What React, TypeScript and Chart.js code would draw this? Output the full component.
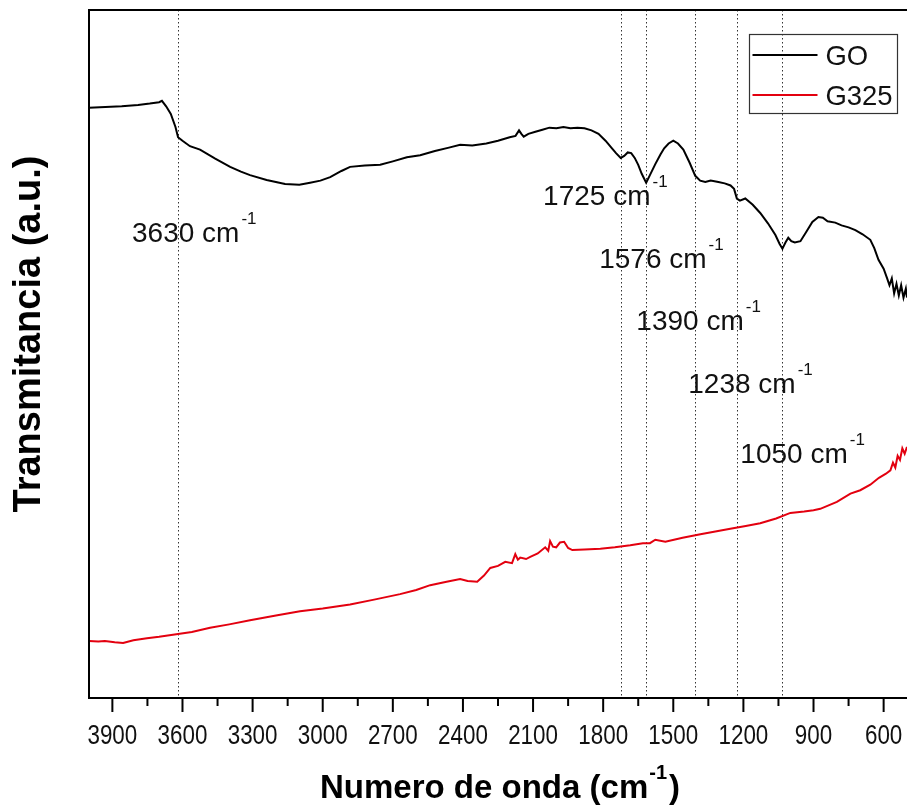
import React, { useEffect, useRef } from "react";
import { Chart, registerables } from "chart.js";

Chart.register(...registerables);

// ---------- data ----------
const GO_WN = [4000, 3930, 3860, 3790, 3740, 3700, 3688, 3670, 3650, 3630, 3619, 3600, 3568, 3525, 3460, 3396, 3350, 3311, 3240, 3161, 3100, 3054, 3010, 2968, 2920, 2883, 2820, 2754, 2700, 2640, 2583, 2520, 2460, 2412, 2360, 2300, 2250, 2200, 2175, 2160, 2150, 2140, 2120, 2090, 2060, 2030, 2000, 1970, 1940, 1910, 1880, 1850, 1820, 1790, 1765, 1745, 1725, 1710, 1695, 1680, 1665, 1650, 1635, 1616, 1600, 1577, 1555, 1539, 1520, 1500, 1480, 1457, 1430, 1406, 1385, 1363, 1340, 1307, 1280, 1255, 1240, 1228, 1215, 1192, 1160, 1128, 1095, 1063, 1045, 1033, 1020, 1008, 995, 980, 956, 930, 905, 879, 860, 840, 807, 780, 750, 721, 690, 657, 640, 622, 600, 585, 575, 565, 555, 545, 535, 525, 515, 505, 500];
const GO_T = [85.8, 85.9, 86.0, 86.2, 86.4, 86.6, 86.8, 86.0, 84.9, 83.0, 81.5, 81.0, 80.2, 79.7, 78.4, 77.2, 76.5, 76.0, 75.3, 74.7, 74.6, 74.9, 75.2, 75.7, 76.6, 77.2, 77.4, 77.5, 78.0, 78.6, 78.9, 79.5, 80.0, 80.4, 80.3, 80.6, 81.0, 81.5, 81.7, 82.5, 82.0, 81.6, 82.0, 82.3, 82.6, 82.9, 82.8, 83.0, 82.8, 82.9, 82.8, 82.5, 82.0, 81.0, 80.0, 79.2, 78.5, 78.8, 79.3, 79.2, 78.5, 77.5, 76.2, 74.9, 76.0, 77.6, 79.0, 79.9, 80.6, 81.0, 80.6, 79.7, 77.8, 75.9, 75.2, 75.0, 75.2, 75.0, 74.8, 74.5, 74.0, 72.6, 72.3, 72.6, 71.7, 70.5, 69.0, 67.3, 66.0, 65.3, 66.2, 66.9, 66.4, 66.2, 66.4, 67.8, 69.2, 69.9, 69.8, 69.3, 69.1, 68.7, 68.4, 68.0, 67.4, 66.6, 65.4, 63.7, 62.4, 61.0, 60.0, 61.0, 58.8, 60.2, 58.5, 60.0, 58.2, 59.5, 58.2];

const G325_WN = [4000, 3960, 3932, 3890, 3854, 3810, 3752, 3700, 3619, 3560, 3482, 3400, 3311, 3200, 3097, 3000, 2883, 2780, 2669, 2600, 2540, 2470, 2412, 2380, 2339, 2310, 2283, 2250, 2219, 2190, 2176, 2165, 2155, 2130, 2112, 2080, 2048, 2035, 2027, 2015, 2001, 1985, 1967, 1950, 1932, 1880, 1812, 1750, 1684, 1630, 1600, 1577, 1534, 1460, 1384, 1320, 1256, 1190, 1128, 1060, 999, 940, 900, 871, 800, 742, 700, 657, 620, 590, 571, 560, 550, 540, 530, 520, 510, 500];
const G325_T = [8.3, 8.2, 8.3, 8.1, 8.0, 8.4, 8.7, 8.9, 9.3, 9.6, 10.2, 10.7, 11.3, 12.0, 12.6, 13.0, 13.6, 14.3, 15.1, 15.7, 16.4, 16.9, 17.3, 17.0, 16.9, 17.8, 18.9, 19.2, 19.8, 19.6, 20.9, 20.1, 20.4, 20.2, 20.5, 21.0, 21.9, 21.4, 22.8, 22.0, 21.9, 22.6, 22.7, 21.8, 21.5, 21.6, 21.7, 21.9, 22.2, 22.5, 22.5, 23.0, 22.7, 23.3, 23.8, 24.2, 24.6, 25.0, 25.4, 26.1, 26.9, 27.1, 27.3, 27.5, 28.5, 29.7, 30.2, 31.0, 32.0, 32.6, 33.1, 34.2, 33.5, 35.2, 34.6, 36.3, 35.5, 36.5];

const SERIES_NAMES = ["GO", "G325"];
const SERIES_COLORS = ["#000000", "#e3000f"];

const X_MIN = 500;
const X_MAX = 4000;
const MAJOR_TICKS = [3900, 3600, 3300, 3000, 2700, 2400, 2100, 1800, 1500, 1200, 900, 600];
const MINOR_TICKS = [3750, 3450, 3150, 2850, 2550, 2250, 1950, 1650, 1350, 1050, 750];

// reference lines and their labels
const BAND_LINES = [3620, 1725, 1617, 1406, 1228, 1033];
const BAND_LABELS = ["3630", "1725", "1576", "1390", "1238", "1050"];
const BAND_LABEL_WN = [3816, 2057, 1817, 1658, 1436, 1213];
const BAND_LABEL_T = [66.3, 71.7, 62.5, 53.5, 44.3, 34.2];

const X_TITLE = "Numero de onda (cm";
const Y_TITLE = "Transmitancia (a.u.)";

const SANS = '"Liberation Sans", Arial, sans-serif';

// draws text squeezed horizontally, returns drawn width
function squeezed(ctx: CanvasRenderingContext2D, text: string, x: number, y: number, font: string, sx: number, align: CanvasTextAlign = "left") {
  ctx.font = font;
  const w = ctx.measureText(text).width * sx;
  let left = x;
  if (align === "center") left = x - w / 2;
  ctx.save();
  ctx.translate(left, y);
  ctx.scale(sx, 1);
  ctx.textAlign = "left";
  ctx.textBaseline = "alphabetic";
  ctx.fillText(text, 0, 0);
  ctx.restore();
  return w;
}

const decorPlugin = {
  id: "decor",
  beforeDatasetsDraw(chart: any) {
    const { ctx, chartArea } = chart;
    const xs = chart.scales.x;
    ctx.save();
    ctx.strokeStyle = "#333";
    ctx.lineWidth = 1;
    ctx.setLineDash([1.5, 2.5]);
    BAND_LINES.forEach((wn) => {
      const px = Math.round(xs.getPixelForValue(wn)) + 0.5;
      ctx.beginPath();
      ctx.moveTo(px, chartArea.top);
      ctx.lineTo(px, chartArea.bottom);
      ctx.stroke();
    });
    ctx.restore();
  },
  afterDraw(chart: any) {
    const { ctx, chartArea } = chart;
    const xs = chart.scales.x;
    const ys = chart.scales.y;
    ctx.save();
    // frame
    ctx.strokeStyle = "#000";
    ctx.lineWidth = 2;
    ctx.beginPath();
    ctx.moveTo(chartArea.right + 2, chartArea.top);
    ctx.lineTo(chartArea.left, chartArea.top);
    ctx.lineTo(chartArea.left, chartArea.bottom);
    ctx.lineTo(chartArea.right + 2, chartArea.bottom);
    ctx.stroke();
    // tick marks
    MAJOR_TICKS.forEach((v) => {
      const px = xs.getPixelForValue(v);
      ctx.beginPath();
      ctx.moveTo(px, chartArea.bottom);
      ctx.lineTo(px, chartArea.bottom + 14);
      ctx.stroke();
    });
    MINOR_TICKS.forEach((v) => {
      const px = xs.getPixelForValue(v);
      ctx.beginPath();
      ctx.moveTo(px, chartArea.bottom);
      ctx.lineTo(px, chartArea.bottom + 8);
      ctx.stroke();
    });
    // tick labels (from the scale's ticks)
    ctx.fillStyle = "#111";
    xs.ticks.forEach((t: any) => {
      const px = xs.getPixelForValue(t.value);
      squeezed(ctx, String(t.value), px, chartArea.bottom + 46, `28px ${SANS}`, 0.8, "center");
    });
    // band labels
    BAND_LABELS.forEach((lab, i) => {
      const px = xs.getPixelForValue(BAND_LABEL_WN[i]);
      const py = ys.getPixelForValue(BAND_LABEL_T[i]);
      const w = squeezed(ctx, lab + " cm", px, py, `28px ${SANS}`, 1);
      squeezed(ctx, "-1", px + w + 2, py - 18, `17px ${SANS}`, 1);
    });
    // legend
    const lx = 749.5, ly = 34.5, lw = 148, lh = 79;
    ctx.strokeStyle = "#333";
    ctx.lineWidth = 1.2;
    ctx.strokeRect(lx, ly, lw, lh);
    SERIES_NAMES.forEach((name, i) => {
      const yy = ly + 20.5 + i * 40;
      ctx.strokeStyle = SERIES_COLORS[i];
      ctx.lineWidth = 2;
      ctx.beginPath();
      ctx.moveTo(lx + 3, yy);
      ctx.lineTo(lx + 68, yy);
      ctx.stroke();
      ctx.fillStyle = "#111";
      squeezed(ctx, name, lx + 76, yy + 10, `28px ${SANS}`, 0.98);
    });
    // x title
    ctx.fillStyle = "#000";
    const mainFont = `bold 33px ${SANS}`;
    const supFont = `bold 20px ${SANS}`;
    ctx.font = mainFont;
    const w1 = ctx.measureText(X_TITLE).width;
    const w2 = ctx.measureText(")").width;
    ctx.font = supFont;
    const w3 = ctx.measureText("-1").width;
    const total = w1 + w2 + w3 + 3;
    const x0 = 500 - total / 2;
    squeezed(ctx, X_TITLE, x0, 798, mainFont, 1);
    squeezed(ctx, "-1", x0 + w1 + 1, 779, supFont, 1);
    squeezed(ctx, ")", x0 + w1 + w3 + 3, 798, mainFont, 1);
    // y title
    ctx.save();
    ctx.translate(40, 334);
    ctx.rotate(-Math.PI / 2);
    ctx.font = `bold 38px ${SANS}`;
    ctx.textAlign = "center";
    ctx.textBaseline = "alphabetic";
    ctx.fillText(Y_TITLE, 0, 0);
    ctx.restore();
    ctx.restore();
  },
};

export default function App() {
  const ref = useRef<HTMLCanvasElement | null>(null);
  useEffect(() => {
    document.body.style.margin = "0";
    const canvas = ref.current;
    if (!canvas) return;
    const chart = new Chart(canvas, {
      type: "line",
      data: {
        datasets: [
          {
            label: SERIES_NAMES[0],
            data: GO_WN.map((x, i) => ({ x, y: GO_T[i] })),
            borderColor: SERIES_COLORS[0],
            borderWidth: 2,
            pointRadius: 0,
            tension: 0,
          },
          {
            label: SERIES_NAMES[1],
            data: G325_WN.map((x, i) => ({ x, y: G325_T[i] })),
            borderColor: SERIES_COLORS[1],
            borderWidth: 2,
            pointRadius: 0,
            tension: 0,
          },
        ],
      },
      options: {
        animation: false,
        responsive: false,
        maintainAspectRatio: false,
        devicePixelRatio: 1,
        layout: { padding: { left: 89, top: 10, right: 0, bottom: 0 } },
        plugins: { legend: { display: false }, tooltip: { enabled: false }, title: { display: false } },
        scales: {
          x: {
            type: "linear",
            reverse: true,
            min: X_MIN,
            max: X_MAX,
            afterBuildTicks: (scale: any) => {
              scale.ticks = MAJOR_TICKS.map((v) => ({ value: v }));
            },
            afterFit: (scale: any) => {
              scale.height = 110;
              scale.paddingLeft = 0;
              scale.paddingRight = 0;
            },
            grid: { display: false, drawTicks: false },
            border: { display: false },
            ticks: { display: false, autoSkip: false, maxRotation: 0 },
          },
          y: {
            type: "linear",
            min: 0,
            max: 100,
            display: false,
          },
        },
      },
      plugins: [decorPlugin],
    });
    return () => chart.destroy();
  }, []);
  return (
    <div style={{ position: "absolute", left: 0, top: 0, width: 907, height: 808, background: "#fff", overflow: "hidden" }}>
      <canvas ref={ref} width={907} height={808} />
    </div>
  );
}
